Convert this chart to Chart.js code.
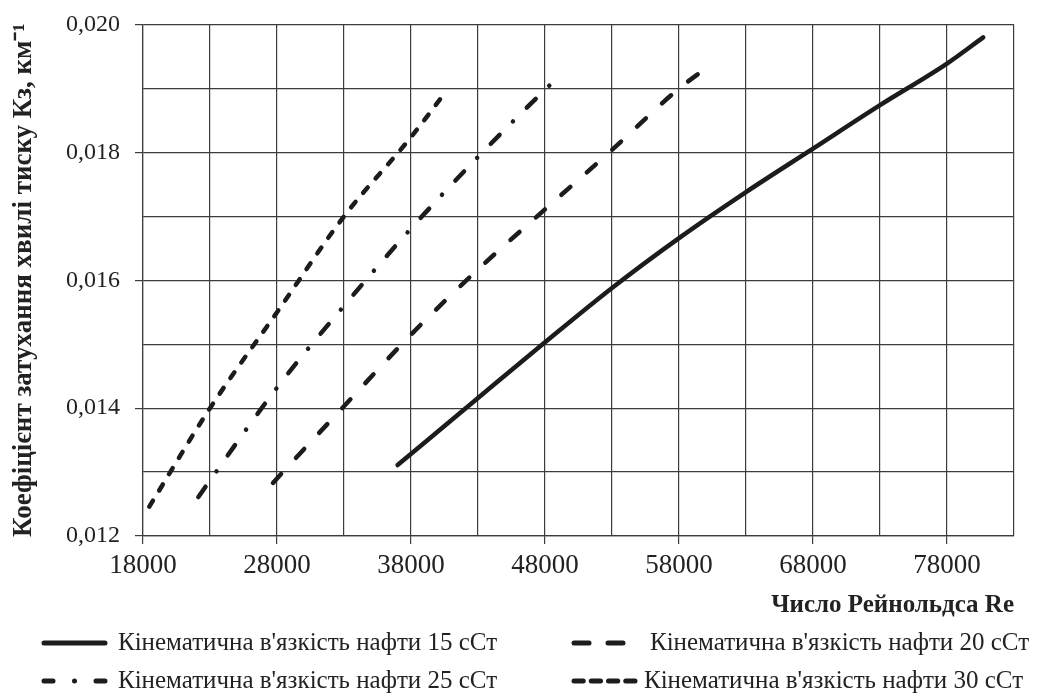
<!DOCTYPE html>
<html lang="uk">
<head>
  <meta charset="UTF-8">
  <title>Коефіцієнт затухання хвилі тиску</title>
  <script src="https://cdn.jsdelivr.net/npm/chart.js"></script>
  <style>
    html, body { margin: 0; padding: 0; background: #fff; }
    #wrap { width: 1037px; height: 693px; position: relative; }
  </style>
</head>
<body>
  <div id="wrap"><canvas id="dampingChart"></canvas></div>

  <script>
    // Число Рейнольдса Re (x) and Кз, км-1 (y) for each viscosity
    const re15 = [37000, 43000, 48000, 53000, 58000, 63000, 68000, 73000, 78000, 80700];
    const k15  = [0.01311, 0.01416, 0.01503, 0.01588, 0.01666, 0.01738, 0.01806, 0.01874, 0.01939, 0.0198];

    const re20 = [27700, 28000, 33000, 38000, 43000, 48000, 53000, 58000, 60500];
    const k20  = [0.01283, 0.0129, 0.01403, 0.01515, 0.01617, 0.01711, 0.01804, 0.0190, 0.01939];

    const re25 = [22130, 23000, 28000, 33000, 38000, 43000, 48000, 48500];
    const k25  = [0.01261, 0.01287, 0.01432, 0.0156, 0.01681, 0.01793, 0.01898, 0.01908];

    const re30 = [18470, 23000, 28000, 33000, 38000, 40200];
    const k30  = [0.01246, 0.0140, 0.0155, 0.0170, 0.01824, 0.01884];

    const seriesNames = [
      "Кінематична в'язкість нафти 15 сСт",
      "Кінематична в'язкість нафти 20 сСт",
      "Кінематична в'язкість нафти 25 сСт",
      "Кінематична в'язкість нафти 30 сСт"
    ];

    const xGrid = [18000, 23000, 28000, 33000, 38000, 43000, 48000, 53000, 58000, 63000, 68000, 73000, 78000, 83000];
    const xTickLabels = [18000, 28000, 38000, 48000, 58000, 68000, 78000];
    const yGrid = [0.012, 0.013, 0.014, 0.015, 0.016, 0.017, 0.018, 0.019, 0.020];
    const yTickLabels = [0.012, 0.014, 0.016, 0.018, 0.020];

    function points(xs, ys) {
      return xs.map((x, i) => ({ x: x, y: ys[i] }));
    }
    function hasLabel(list, v) {
      return list.some(t => Math.abs(t - v) < 1e-9);
    }

    const lineColor = '#1c1c1c';
    const gridColor = '#3c3c3c';

    // legend drawn as a 2x2 grid under the axis title
    const legendSlots = [
      { x: 42, y: 643, len: 65, textX: 118 },
      { x: 572, y: 643, len: 65, textX: 650 },
      { x: 42, y: 681, len: 65, textX: 118 },
      { x: 572, y: 681, len: 65, textX: 644 }
    ];

    const gridLegend = {
      id: 'gridLegend',
      afterDraw(chart) {
        const ctx = chart.ctx;
        ctx.save();
        chart.data.datasets.forEach((ds, i) => {
          const s = legendSlots[i];
          ctx.beginPath();
          ctx.strokeStyle = ds.borderColor;
          ctx.lineWidth = 5;
          ctx.lineCap = 'round';
          ctx.setLineDash(ds.legendDash);
          ctx.moveTo(s.x + 2, s.y);
          ctx.lineTo(s.x + s.len - 2, s.y);
          ctx.stroke();
          ctx.setLineDash([]);
          ctx.fillStyle = '#222';
          ctx.font = '25px "Liberation Serif"';
          ctx.textBaseline = 'middle';
          ctx.fillText(ds.label, s.textX, s.y);
        });
        ctx.restore();
      }
    };

    const ctx = document.getElementById('dampingChart').getContext('2d');
    new Chart(ctx, {
      type: 'line',
      data: {
        datasets: [
          {
            label: seriesNames[0],
            data: points(re15, k15),
            borderColor: lineColor,
            borderWidth: 4.5,
            borderDash: [],
            legendDash: []
          },
          {
            label: seriesNames[1],
            data: points(re20, k20),
            borderColor: lineColor,
            borderWidth: 4.5,
            borderDash: [12, 22],
            legendDash: [15, 19]
          },
          {
            label: seriesNames[2],
            data: points(re25, k25),
            borderColor: lineColor,
            borderWidth: 4.5,
            borderDash: [12.5, 19, 0.01, 19.5],
            legendDash: [9, 21.5, 0.01, 21.5, 9]
          },
          {
            label: seriesNames[3],
            data: points(re30, k30),
            borderColor: lineColor,
            borderWidth: 4.5,
            borderDash: [7, 12],
            legendDash: [9.25, 8]
          }
        ]
      },
      options: {
        responsive: true,
        maintainAspectRatio: false,
        animation: false,
        layout: {
          padding: { top: 24, right: 23, bottom: 72, left: 0 }
        },
        elements: {
          point: { radius: 0, hoverRadius: 0 },
          line: { cubicInterpolationMode: 'monotone', borderCapStyle: 'round', fill: false }
        },
        scales: {
          x: {
            type: 'linear',
            min: 18000,
            max: 83000,
            afterBuildTicks: scale => { scale.ticks = xGrid.map(v => ({ value: v })); },
            afterFit: scale => { scale.height = 85; },
            grid: {
              color: gridColor,
              lineWidth: 1.2,
              tickLength: 8,
              tickColor: c => (c.tick && hasLabel(xTickLabels, c.tick.value)) ? gridColor : 'rgba(0,0,0,0)'
            },
            border: { color: gridColor, width: 1.2 },
            ticks: {
              autoSkip: false,
              maxRotation: 0,
              padding: 6,
              color: '#222',
              font: { family: 'Liberation Serif', size: 27 },
              callback: v => hasLabel(xTickLabels, v) ? String(v) : ''
            },
            title: {
              display: true,
              text: 'Число Рейнольдса Re',
              align: 'end',
              color: '#222',
              padding: { top: 0, bottom: 0 },
              font: { family: 'Liberation Serif', size: 25, weight: 'bold' }
            }
          },
          y: {
            type: 'linear',
            min: 0.012,
            max: 0.020,
            afterBuildTicks: scale => { scale.ticks = yGrid.map(v => ({ value: v })); },
            afterFit: scale => { scale.width = 143; },
            grid: {
              color: gridColor,
              lineWidth: 1.2,
              tickLength: 8,
              tickColor: c => (c.tick && hasLabel(yTickLabels, c.tick.value)) ? gridColor : 'rgba(0,0,0,0)'
            },
            border: { color: gridColor, width: 1.2 },
            ticks: {
              autoSkip: false,
              padding: 15,
              color: '#222',
              font: { family: 'Liberation Serif', size: 24, lineHeight: 0.8 },
              callback: v => hasLabel(yTickLabels, v) ? v.toFixed(3).replace('.', ',') : ''
            },
            title: {
              display: true,
              text: 'Коефіцієнт затухання хвилі тиску Кз, км⁻¹',
              color: '#222',
              padding: { top: 8, bottom: 0 },
              font: { family: 'Liberation Serif', size: 27, weight: 'bold' }
            }
          }
        },
        plugins: {
          legend: { display: false },
          tooltip: { enabled: false }
        }
      },
      plugins: [gridLegend]
    });
  </script>
</body>
</html>
